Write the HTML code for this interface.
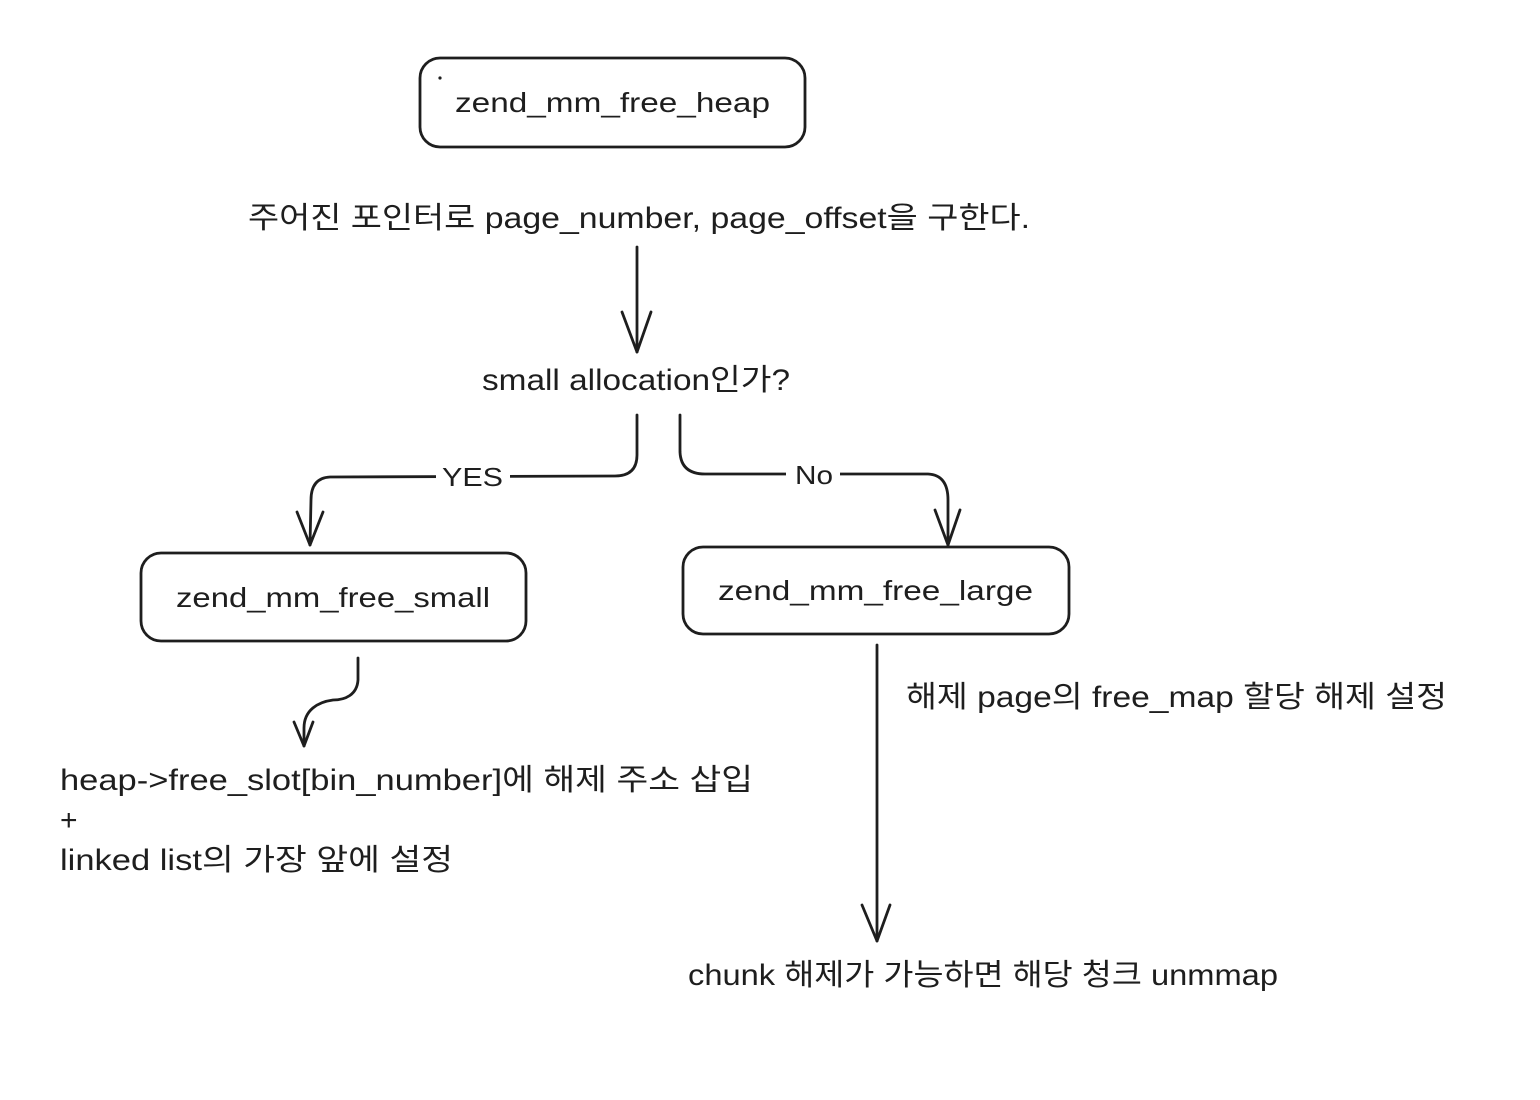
<!DOCTYPE html>
<html><head><meta charset="utf-8"><style>
html,body{margin:0;padding:0;background:#fff;}
svg{display:block;}
text{font-family:"Liberation Sans","Noto Sans CJK KR","NanumGothic",sans-serif;fill:#1e1e1e;}
</style></head><body>
<svg width="1540" height="1100" viewBox="0 0 1540 1100" xmlns="http://www.w3.org/2000/svg">
<rect width="1540" height="1100" fill="#fff"/>
<g fill="none" stroke="#1e1e1e" stroke-width="2.8" stroke-linecap="round" stroke-linejoin="round">
  <rect x="420" y="58" width="385" height="89" rx="20"/>
  <rect x="141" y="553" width="385" height="88" rx="20"/>
  <rect x="683" y="547" width="386" height="87" rx="20"/>
  <!-- arrow 1 -->
  <path d="M637,247 L637,352"/>
  <path d="M622,312 L637,352 L651,312"/>
  <!-- YES -->
  <path d="M637,415 L637,455 Q637,476 615,476 L330,477 Q311,478 311,500 L310,545"/>
  <path d="M297,512 L310,545 L323,512"/>
  <!-- No -->
  <path d="M680,415 L680,452 Q681,474 705,474 L928,474 Q948,475 948,500 L948,545"/>
  <path d="M935,510 L948,545 L960,510"/>
  <!-- squiggle -->
  <path d="M358,658 L358,680 C357,695 345,700 333,700 C318,702 304,710 304,728 L304,746"/>
  <path d="M294,722 L304,746 L313,722"/>
  <!-- large arrow -->
  <path d="M877,645 L877,941"/>
  <path d="M862,905 L877,941 L890,905"/>
</g>
<circle cx="440" cy="78" r="1.6" fill="#1e1e1e"/>
<rect x="436" y="458" width="74" height="34" fill="#fff"/>
<rect x="786" y="456" width="54" height="34" fill="#fff"/>
<text x="442" y="486" font-size="26" textLength="61" lengthAdjust="spacingAndGlyphs">YES</text>
<text x="795" y="484" font-size="26" textLength="38" lengthAdjust="spacingAndGlyphs">No</text>

<text x="455" y="112" font-size="28" textLength="315" lengthAdjust="spacingAndGlyphs">zend_mm_free_heap</text>
<text x="176" y="607" font-size="28" textLength="314" lengthAdjust="spacingAndGlyphs">zend_mm_free_small</text>
<text x="718" y="600" font-size="28" textLength="315" lengthAdjust="spacingAndGlyphs">zend_mm_free_large</text>

<text x="248" y="228" font-size="30" textLength="782" lengthAdjust="spacingAndGlyphs">주어진 포인터로 page_number, page_offset을 구한다.</text>
<text x="482" y="390" font-size="30" textLength="308" lengthAdjust="spacingAndGlyphs">small allocation인가?</text>

<text x="60" y="790" font-size="30" textLength="693" lengthAdjust="spacingAndGlyphs">heap-&gt;free_slot[bin_number]에 해제 주소 삽입</text>
<text x="60" y="830" font-size="30">+</text>
<text x="60" y="870" font-size="30" textLength="393" lengthAdjust="spacingAndGlyphs">linked list의 가장 앞에 설정</text>

<text x="906" y="707" font-size="30" textLength="541" lengthAdjust="spacingAndGlyphs">해제 page의 free_map 할당 해제 설정</text>
<text x="688" y="985" font-size="30" textLength="590" lengthAdjust="spacingAndGlyphs">chunk 해제가 가능하면 해당 청크 unmmap</text>
</svg>
</body></html>
